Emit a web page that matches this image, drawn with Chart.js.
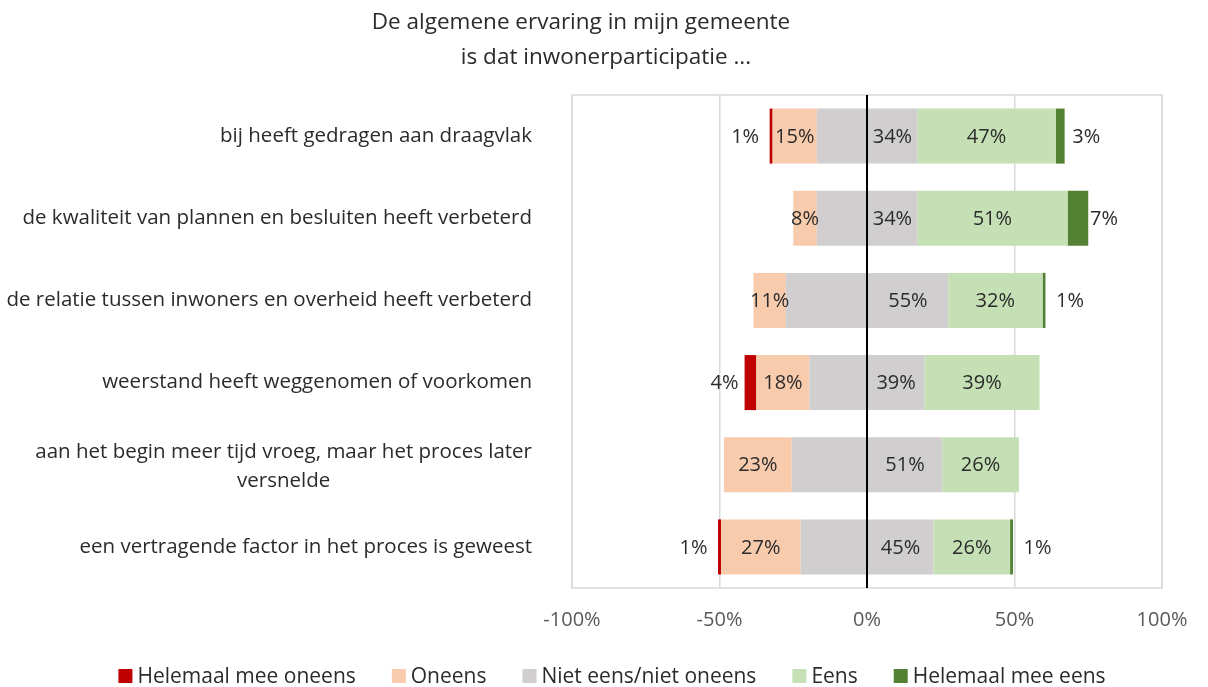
<!DOCTYPE html>
<html>
<head>
<meta charset="utf-8">
<script src="https://cdn.jsdelivr.net/npm/chart.js@4.4.1/dist/chart.umd.min.js"></script>
<style>
  html, body { margin: 0; padding: 0; background: #fff; }
</style>
</head>
<body>
<canvas id="chart" width="1208" height="687"></canvas>
<script>
// data (percentages)
const categories = [
  ['bij heeft gedragen aan draagvlak'],
  ['de kwaliteit van plannen en besluiten heeft verbeterd'],
  ['de relatie tussen inwoners en overheid heeft verbeterd'],
  ['weerstand heeft weggenomen of voorkomen'],
  ['aan het begin meer tijd vroeg, maar het proces later', 'versnelde'],
  ['een vertragende factor in het proces is geweest'],
];
const helemaalOneens = [1, 0, 0, 4, 0, 1];
const oneens = [15, 8, 11, 18, 23, 27];
const neutraal = [34, 34, 55, 39, 51, 45];
const eens = [47, 51, 32, 39, 26, 26];
const helemaalEens = [3, 7, 1, 0, 0, 1];
const xTicks = [-100, -50, 0, 50, 100];
const titleLines = ['De algemene ervaring in mijn gemeente', 'is dat inwonerparticipatie ...'];
const legendNames = ['Helemaal mee oneens', 'Oneens', 'Niet eens/niet oneens', 'Eens', 'Helemaal mee eens'];

const RED = '#C00000';
const PEACH = '#F8CBAD';
const GREY = '#D0CECE';
const LIGHT_GREEN = '#C5E0B4';
const DARK_GREEN = '#548235';
const legendColors = [RED, PEACH, GREY, LIGHT_GREEN, DARK_GREEN];

const FONT = '"Open Sans", sans-serif';
const TEXT = '#2b2b2b';

// diverging stack: neutral is split over both sides of zero
const neg = arr => arr.map(v => -v);
const half = arr => arr.map(v => v / 2);

const datasets = [
  { data: neg(half(neutraal)), backgroundColor: GREY },
  { data: neg(oneens), backgroundColor: PEACH, valueLabels: oneens },
  { data: neg(helemaalOneens), backgroundColor: RED, valueLabels: helemaalOneens, labelPos: 'left' },
  { data: half(neutraal), backgroundColor: GREY, valueLabels: neutraal },
  { data: eens, backgroundColor: LIGHT_GREEN, valueLabels: eens },
  { data: helemaalEens, backgroundColor: DARK_GREEN, valueLabels: helemaalEens, labelPos: 'right' },
].map(d => ({ ...d, stack: 'a', borderWidth: 0, categoryPercentage: 1, barPercentage: 0.67 }));

const overlay = {
  id: 'overlay',
  beforeDatasetsDraw(chart) {
    const { ctx, chartArea: a } = chart;
    ctx.save();
    ctx.strokeStyle = '#D9D9D9';
    ctx.lineWidth = 1.5;
    ctx.strokeRect(a.left, a.top, a.right - a.left, a.bottom - a.top);
    ctx.restore();
  },
  afterDatasetsDraw(chart) {
    const { ctx, chartArea: a, scales: { x } } = chart;
    ctx.save();
    const x0 = Math.round(x.getPixelForValue(0));
    ctx.strokeStyle = '#000';
    ctx.lineWidth = 2;
    ctx.beginPath();
    ctx.moveTo(x0, a.top);
    ctx.lineTo(x0, a.bottom);
    ctx.stroke();

    ctx.font = '20px ' + FONT;
    ctx.fillStyle = TEXT;
    ctx.textAlign = 'center';
    ctx.textBaseline = 'middle';
    chart.data.datasets.forEach((ds, di) => {
      if (!ds.valueLabels) return;
      chart.getDatasetMeta(di).data.forEach((bar, i) => {
        const v = ds.valueLabels[i];
        if (!v) return;
        let cx = (bar.x + bar.base) / 2;
        if (ds.labelPos === 'left') cx -= 26;
        if (ds.labelPos === 'right') cx += 26;
        ctx.fillText(v + '%', cx, bar.y + 1);
      });
    });
    ctx.restore();
  },
  afterDraw(chart) {
    const { ctx, scales: { y } } = chart;
    ctx.save();
    ctx.textBaseline = 'middle';
    ctx.fillStyle = TEXT;

    // title
    ctx.font = '22.5px ' + FONT;
    ctx.textAlign = 'center';
    ctx.fillText(titleLines[0], 581, 23);
    ctx.fillText(titleLines[1], 606, 58);

    // category labels: block right-aligned, wrapped lines centred in block
    ctx.font = '20.5px ' + FONT;
    const lineH = 29;
    categories.forEach((lines, i) => {
      const cy = y.getPixelForValue(i) + (lines.length > 1 ? 2 : 0);
      const w = Math.max(...lines.map(l => ctx.measureText(l).width));
      const cx = 532 - w / 2;
      lines.forEach((l, k) => {
        ctx.fillText(l, cx, cy + (k - (lines.length - 1) / 2) * lineH);
      });
    });

    // legend
    ctx.font = '21px ' + FONT;
    const box = 14, gap = 5, itemGap = 36;
    const widths = legendNames.map(n => box + gap + ctx.measureText(n).width);
    const total = widths.reduce((s, w) => s + w, 0) + itemGap * (legendNames.length - 1);
    let lx = 612 - total / 2;
    const ly = 676;
    ctx.textAlign = 'left';
    legendNames.forEach((n, i) => {
      ctx.fillStyle = legendColors[i];
      ctx.fillRect(lx, ly - box / 2, box, box);
      ctx.fillStyle = TEXT;
      ctx.fillText(n, lx + box + gap, ly + 1);
      lx += widths[i] + itemGap;
    });
    ctx.restore();
  },
};

new Chart(document.getElementById('chart').getContext('2d'), {
  type: 'bar',
  data: { labels: categories, datasets },
  options: {
    indexAxis: 'y',
    responsive: false,
    animation: false,
    devicePixelRatio: 1,
    layout: { padding: { left: 0, top: 95, right: 46, bottom: 0 } },
    plugins: { legend: { display: false }, tooltip: { enabled: false }, title: { display: false } },
    scales: {
      x: {
        min: -100,
        max: 100,
        afterBuildTicks: scale => { scale.ticks = xTicks.map(v => ({ value: v })); },
        afterFit: scale => { scale.height = 99; },
        grid: {
          drawTicks: false,
          lineWidth: 1.5,
          color: c => (c.tick && c.tick.value === 0 ? 'rgba(0,0,0,0)' : '#D9D9D9'),
        },
        border: { display: false },
        ticks: {
          padding: 20,
          color: '#595959',
          font: { family: FONT, size: 20 },
          callback: v => v + '%',
        },
      },
      y: {
        stacked: true,
        afterFit: scale => { scale.width = 572; },
        grid: { display: false },
        border: { display: false },
        ticks: { display: false },
      },
    },
  },
  plugins: [overlay],
});
</script>
</body>
</html>
